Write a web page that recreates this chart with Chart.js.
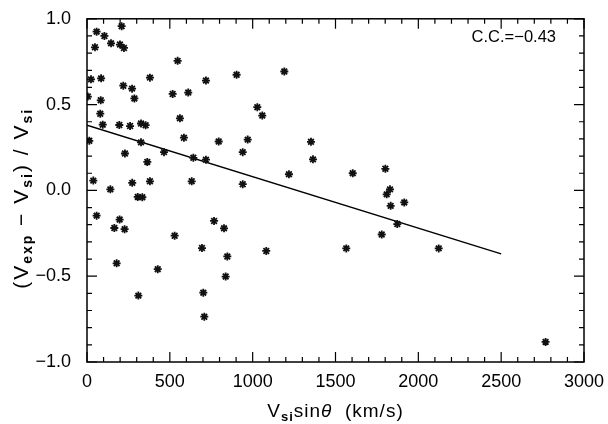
<!DOCTYPE html>
<html>
<head>
<meta charset="utf-8">
<script src="https://cdn.jsdelivr.net/npm/chart.js@4.4.0/dist/chart.umd.min.js"></script>
<style>
  html, body { margin: 0; padding: 0; background: #fff; }
  #wrap { width: 608px; height: 424px; }
</style>
</head>
<body>
<div id="wrap"><canvas id="scatter"></canvas></div>
<script>
// V_si sin(theta) in km/s
const vSinTheta = [209, 58, 105, 145, 199, 223, 48, 547, 24, 85, 380, 718, 903, 219, 272, 286, 517, 611,
  5, 83, 1028, 1058, 80, 561, 95, 195, 260, 326, 354, 14, 585, 795, 970, 326, 229, 465, 940, 642, 718, 364,
  38, 273, 380, 632, 940, 141, 306, 334, 58, 197, 165, 227, 767, 827, 529, 694, 847, 179, 427, 837, 310,
  702, 708, 1191, 1352, 1364, 1219, 1604, 1801, 1829, 1809, 1915, 1833, 1873, 1779, 1082, 1565, 2123, 2768];
// (V_exp - V_si) / V_si
const relDiff = [0.957, 0.925, 0.90, 0.857, 0.85, 0.83, 0.834, 0.755, 0.647, 0.653, 0.657, 0.64, 0.674, 0.61,
  0.593, 0.536, 0.562, 0.57, 0.547, 0.525, 0.485, 0.436, 0.447, 0.42, 0.383, 0.381, 0.375, 0.39, 0.38, 0.289,
  0.307, 0.285, 0.296, 0.28, 0.215, 0.223, 0.223, 0.19, 0.179, 0.166, 0.057, 0.044, 0.053, 0.053, 0.036,
  0.006, -0.038, -0.04, -0.147, -0.17, -0.219, -0.226, -0.178, -0.221, -0.264, -0.336, -0.385, -0.425, -0.459,
  -0.502, -0.613, -0.596, -0.736, 0.693, 0.283, 0.181, 0.094, 0.10, 0.126, 0.006, -0.023, -0.07, -0.09,
  -0.196, -0.257, -0.353, -0.338, -0.338, -0.883];
// linear fit end points
const fitX = [0, 2500];
const fitY = [0.38, -0.37];
const ccText = 'C.C.=\u22120.43';

const FONT = '"Liberation Sans", "DejaVu Sans", sans-serif';

const points = vSinTheta.map((v, i) => ({ x: v, y: relDiff[i] }));
const fitLine = fitX.map((v, i) => ({ x: v, y: fitY[i] }));

const frame = {
  id: 'frame',
  afterDraw(chart) {
    const c = chart.ctx, a = chart.chartArea;
    const xs = chart.scales.x, ys = chart.scales.y;
    c.save();
    c.strokeStyle = '#000';
    c.lineWidth = 1.5;
    c.strokeRect(a.left, a.top, a.right - a.left, a.bottom - a.top);
    c.lineWidth = 1.2;
    c.beginPath();
    for (let v = 0; v <= 3000; v += 100) {
      const p = xs.getPixelForValue(v);
      const len = v % 500 === 0 ? 10 : 5;
      c.moveTo(p, a.bottom); c.lineTo(p, a.bottom - len);
      c.moveTo(p, a.top); c.lineTo(p, a.top + len);
    }
    for (let k = -10; k <= 10; k++) {
      const p = ys.getPixelForValue(k / 10);
      const len = k % 5 === 0 ? 10 : 5;
      c.moveTo(a.left, p); c.lineTo(a.left + len, p);
      c.moveTo(a.right, p); c.lineTo(a.right - len, p);
    }
    c.stroke();

    // correlation text
    c.fillStyle = '#000';
    c.font = '16.5px ' + FONT;
    c.textAlign = 'right';
    c.textBaseline = 'middle';
    c.fillText(ccText, a.right - 28, a.top + 19);

    const measure = list => list.reduce((s, [t, size, dy, style]) => {
      c.font = (style || '') + ' ' + size + 'px ' + FONT;
      return s + c.measureText(t).width;
    }, 0);
    const parts = (list, x, y) => {
      let cx = x;
      list.forEach(([t, size, dy, style]) => {
        c.font = (style || '') + ' ' + size + 'px ' + FONT;
        c.fillText(t, cx, y + dy);
        cx += c.measureText(t).width;
      });
    };
    c.textAlign = 'left';
    c.textBaseline = 'alphabetic';
    c.letterSpacing = '1px';

    // x title
    const xt = [['V', 19, 0], ['si', 13, 4, 'bold'], ['sin', 19, 0], ['\u03b8', 19, 0, 'italic'], ['  (km/s)', 19, 0]];
    parts(xt, (a.left + a.right) / 2 - measure(xt) / 2, 417);

    // y title
    c.letterSpacing = '2px';
    const yt = [['(V', 21, 0], ['exp', 14, 4, 'bold'], [' \u2212 V', 21, 0], ['si', 14, 4, 'bold'], [') / V', 21, 0], ['si', 14, 4, 'bold']];
    c.translate(28, (a.top + a.bottom) / 2 + 8);
    c.rotate(-Math.PI / 2);
    parts(yt, -measure(yt) / 2, 0);
    c.restore();
  }
};

new Chart(document.getElementById('scatter'), {
  type: 'scatter',
  data: {
    datasets: [
      {
        data: points,
        pointStyle: 'star',
        radius: 4,
        borderWidth: 1.8,
        borderColor: '#111',
        backgroundColor: '#111'
      },
      {
        type: 'line',
        data: fitLine,
        borderColor: '#000',
        borderWidth: 1.5,
        pointRadius: 0,
        fill: false
      }
    ]
  },
  options: {
    responsive: true,
    maintainAspectRatio: false,
    animation: false,
    layout: { padding: { top: 8, right: 24, left: 0, bottom: 0 } },
    plugins: { legend: { display: false }, tooltip: { enabled: false } },
    scales: {
      x: {
        type: 'linear', min: 0, max: 3000,
        afterFit: s => { s.height = 62; },
        grid: { display: false },
        border: { display: false },
        ticks: {
          stepSize: 500, color: '#000', padding: 1, maxRotation: 0, font: { family: FONT, size: 18 },
          callback: v => String(v)
        }
      },
      y: {
        type: 'linear', min: -1, max: 1,
        afterFit: s => { s.width = 87; },
        grid: { display: false },
        border: { display: false },
        ticks: {
          stepSize: 0.5, color: '#000', padding: 8, font: { family: FONT, size: 18 },
          callback: v => v.toFixed(1).replace('-', '\u2212')
        }
      }
    }
  },
  plugins: [frame]
});
</script>
</body>
</html>
